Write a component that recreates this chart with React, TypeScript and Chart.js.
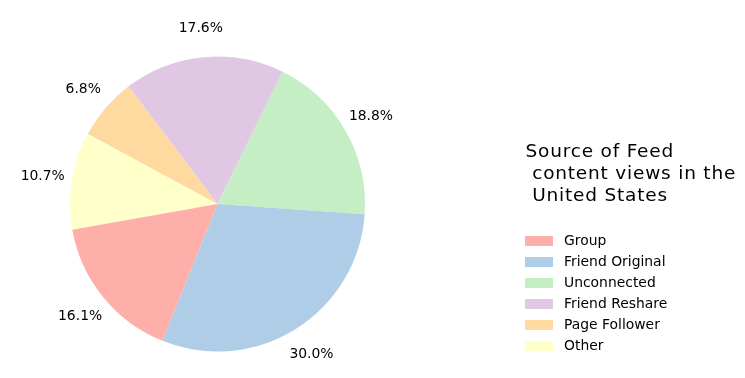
import React, { useEffect, useRef } from "react";
import { Chart, registerables } from "chart.js";

Chart.register(...registerables);

const categories = ["Group", "Friend Original", "Unconnected", "Friend Reshare", "Page Follower", "Other"];
const shares = [16.1, 30.0, 18.8, 17.6, 6.8, 10.7];
const colors = ["#ffafaa", "#afcde6", "#c6eec5", "#e0c8e5", "#fed9a0", "#ffffca"];
const titleLines = ["Source of Feed", " content views in the", " United States"];

const FONT = "'DejaVu Sans', 'Liberation Sans', sans-serif";

export default function App() {
  const ref = useRef<HTMLCanvasElement | null>(null);

  useEffect(() => {
    const canvas = ref.current;
    if (!canvas) return;
    // matplotlib draws counter-clockwise; Chart.js clockwise -> reverse order
    const labels = [...categories].reverse();
    const values = [...shares].reverse();
    const bg = [...colors].reverse();

    const labelPlugin = {
      id: "pctLabels",
      afterDatasetsDraw(chart: any) {
        const ctx = chart.ctx;
        const meta = chart.getDatasetMeta(0);
        ctx.save();
        ctx.font = `13.9px ${FONT}`;
        ctx.fillStyle = "#000";
        ctx.textAlign = "center";
        ctx.textBaseline = "middle";
        meta.data.forEach((arc: any, i: number) => {
          const p = arc.getProps(["x", "y", "startAngle", "endAngle", "outerRadius"], true);
          const mid = (p.startAngle + p.endAngle) / 2;
          const r = p.outerRadius * 1.2;
          const x = p.x + Math.cos(mid) * r;
          const y = p.y + Math.sin(mid) * r;
          ctx.fillText(values[i].toFixed(1) + "%", x, y + 0.5);
        });
        // legend
        ctx.textAlign = "left";
        ctx.font = `18.5px ${FONT}`;
        try {
          (ctx as any).letterSpacing = "0.8px";
        } catch (e) {}
        titleLines.forEach((t, i) => {
          ctx.fillText(t, 525.5, 152.5 + i * 21.7);
        });
        try {
          (ctx as any).letterSpacing = "0px";
        } catch (e) {}
        ctx.font = `13.9px ${FONT}`;
        categories.forEach((c, i) => {
          const y = 241 + i * 21;
          ctx.fillStyle = colors[i];
          ctx.fillRect(525, y - 5, 28, 10);
          ctx.fillStyle = "#000";
          ctx.fillText(c, 564, y + 0.5);
        });
        ctx.restore();
      },
    };

    const chart = new Chart(canvas, {
      type: "pie",
      data: {
        labels,
        datasets: [
          {
            data: values,
            backgroundColor: bg,
            borderWidth: 0,
            hoverOffset: 0,
          },
        ],
      },
      options: {
        responsive: false,
        animation: false,
        events: [],
        rotation: 259.9,
        layout: { padding: { left: 70, right: 380, top: 56.5, bottom: 26.5 } },
        plugins: {
          legend: { display: false },
          tooltip: { enabled: false },
        },
      },
      plugins: [labelPlugin],
    });
    return () => chart.destroy();
  }, []);

  return (
    <div style={{ position: "fixed", left: 0, top: 0, width: 745, height: 378, background: "#fff" }}>
      <canvas ref={ref} width={745} height={378} style={{ width: 745, height: 378, display: "block" }} />
    </div>
  );
}
